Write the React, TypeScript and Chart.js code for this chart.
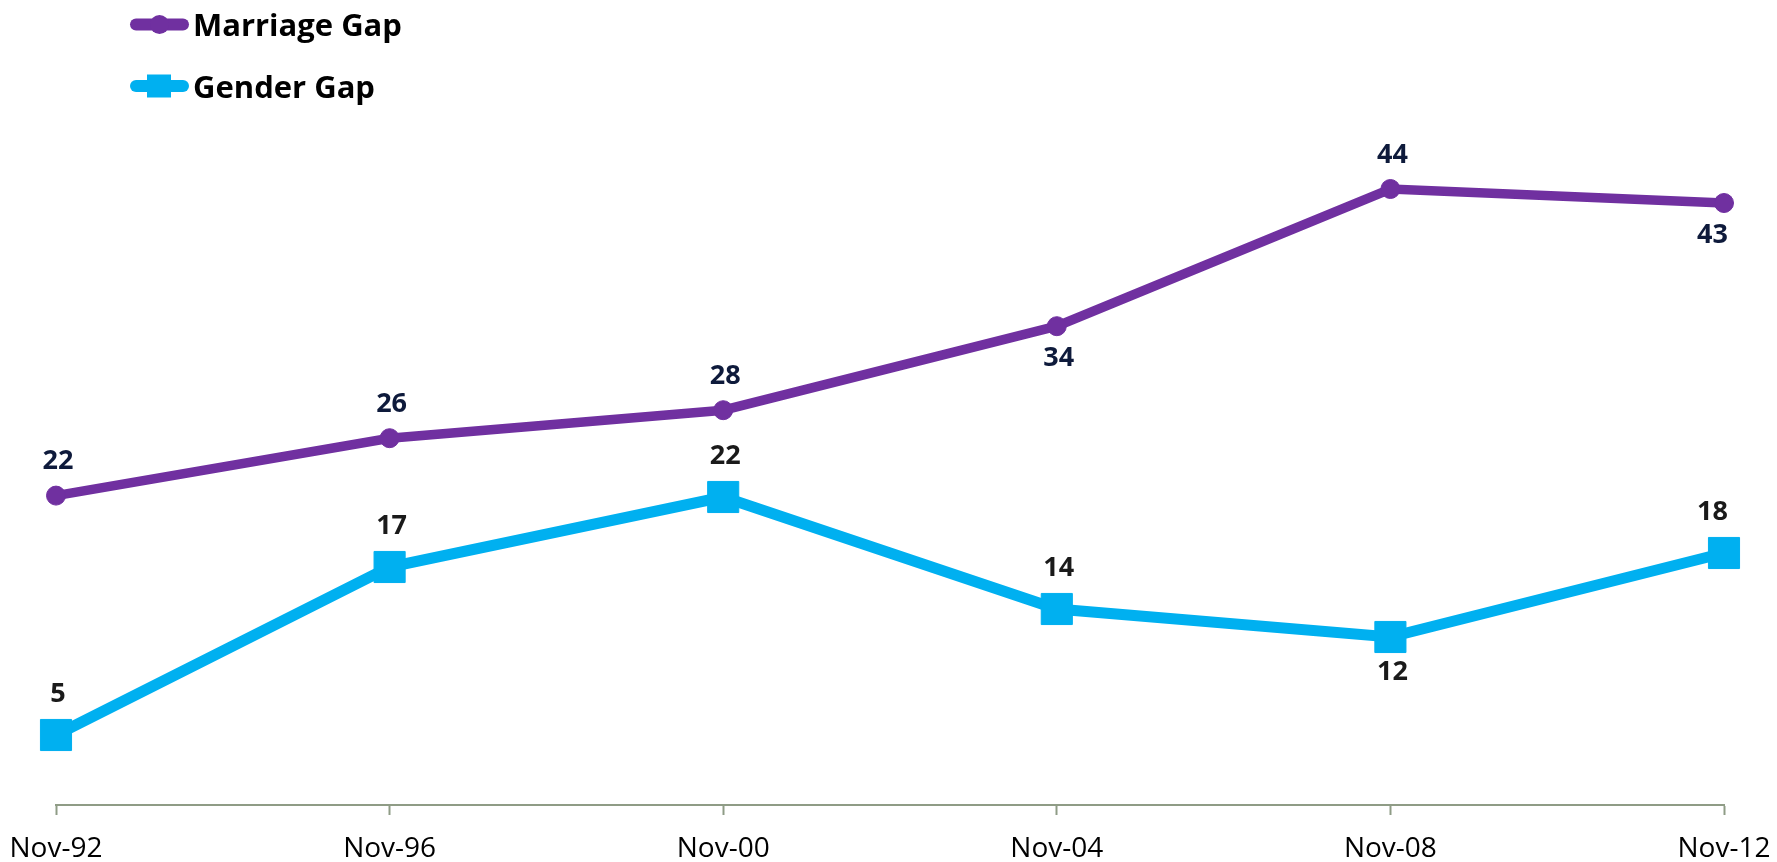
import React, { useEffect, useRef } from "react";
import { Chart, registerables } from "chart.js";

Chart.register(...registerables);

const categories = ["Nov-92", "Nov-96", "Nov-00", "Nov-04", "Nov-08", "Nov-12"];
const marriageGap = [22.1, 26.2, 28.2, 34.2, 44, 43];
const genderGap = [5, 17, 22, 14, 12, 18];
const marriageLabelPos = ["above", "above", "above", "below", "above", "below"];
const genderLabelPos = ["above", "above", "above", "above", "below", "above"];
const seriesNames = ["Marriage Gap", "Gender Gap"];
const yMin = 0;
const yMax = 50;

const PURPLE = "#7030A0";
const CYAN = "#00B0F0";
const FONT = "'Open Sans', 'DejaVu Sans', sans-serif";

const dataLabelPlugin = {
  id: "dataLabels",
  afterDatasetsDraw(chart: any) {
    const ctx = chart.ctx;
    ctx.save();
    ctx.font = `bold 27px ${FONT}`;
    ctx.textAlign = "center";
    ctx.textBaseline = "alphabetic";
    const cfg = [
      { pos: marriageLabelPos, color: "#0E1A3B", above: 36, below: 30 },
      { pos: genderLabelPos, color: "#1A1A1A", above: 43, below: 33 },
    ];
    chart.data.datasets.forEach((ds: any, di: number) => {
      const meta = chart.getDatasetMeta(di);
      meta.data.forEach((pt: any, i: number) => {
        const v = ds.data[i];
        const text = String(Math.round(v));
        const c = cfg[di];
        const cy = c.pos[i] === "above" ? pt.y - c.above : pt.y + c.below;
        const w = ctx.measureText(text).width;
        let cx = pt.x + 2;
        const maxRight = chart.chartArea.right + 4;
        if (cx + w / 2 > maxRight) cx = maxRight - w / 2;
        ctx.fillStyle = c.color;
        ctx.fillText(text, cx, cy + 9.6);
      });
    });
    ctx.restore();
  },
};

const legendPlugin = {
  id: "customLegend",
  afterDraw(chart: any) {
    const ctx = chart.ctx;
    ctx.save();
    const rows = [
      { y: 24.5, color: PURPLE, shape: "circle", text: seriesNames[0] },
      { y: 86, color: CYAN, shape: "square", text: seriesNames[1] },
    ];
    rows.forEach((r) => {
      ctx.strokeStyle = r.color;
      ctx.lineWidth = 12;
      ctx.lineCap = "round";
      ctx.beginPath();
      ctx.moveTo(136, r.y);
      ctx.lineTo(183, r.y);
      ctx.stroke();
      ctx.fillStyle = r.color;
      if (r.shape === "circle") {
        ctx.beginPath();
        ctx.arc(159.5, r.y, 9.5, 0, Math.PI * 2);
        ctx.fill();
      } else {
        ctx.fillRect(147, r.y - 11.5, 24, 23);
      }
      ctx.fillStyle = "#000000";
      ctx.font = `bold 31px ${FONT}`;
      ctx.textAlign = "left";
      ctx.textBaseline = "alphabetic";
      ctx.fillText(r.text, 193, r.y + 11.5);
    });
    ctx.restore();
  },
};

export default function App() {
  const ref = useRef<HTMLCanvasElement | null>(null);
  useEffect(() => {
    if (!ref.current) return;
    const chart = new Chart(ref.current, {
      type: "line",
      data: {
        labels: categories,
        datasets: [
          {
            label: seriesNames[0],
            data: marriageGap,
            borderColor: PURPLE,
            backgroundColor: PURPLE,
            borderWidth: 9.5,
            pointStyle: "circle",
            pointRadius: 9.5,
            pointBorderWidth: 1,
            pointBackgroundColor: PURPLE,
            pointBorderColor: PURPLE,
            tension: 0,
          },
          {
            label: seriesNames[1],
            data: genderGap,
            borderColor: CYAN,
            backgroundColor: CYAN,
            borderWidth: 11,
            pointStyle: "rect",
            pointRadius: 22,
            pointBorderWidth: 1,
            pointBackgroundColor: CYAN,
            pointBorderColor: CYAN,
            tension: 0,
          },
        ],
      },
      options: {
        responsive: false,
        animation: false,
        devicePixelRatio: 1,
        layout: { padding: { top: 105, left: 56, right: 53, bottom: 0 } },
        plugins: {
          legend: { display: false },
          tooltip: { enabled: false },
        },
        scales: {
          x: {
            offset: false,
            afterFit: (scale: any) => {
              scale.height = 57;
              scale.paddingLeft = 0;
              scale.paddingRight = 0;
            },
            border: { display: true, color: "#8F9C86", width: 2 },
            grid: {
              display: true,
              drawOnChartArea: false,
              drawTicks: true,
              tickLength: 10,
              tickWidth: 2,
              tickColor: "#8F9C86",
            },
            ticks: {
              color: "#000000",
              font: { family: FONT, size: 28 },
              padding: 17,
              maxRotation: 0,
              autoSkip: false,
            },
          },
          y: {
            display: false,
            min: yMin,
            max: yMax,
          },
        },
      },
      plugins: [dataLabelPlugin, legendPlugin],
    });
    return () => chart.destroy();
  }, []);
  return (
    <div style={{ position: "absolute", left: 0, top: 0, width: 1777, height: 862, background: "#fff" }}>
      <canvas ref={ref} width={1777} height={862} style={{ width: 1777, height: 862, display: "block" }} />
    </div>
  );
}
